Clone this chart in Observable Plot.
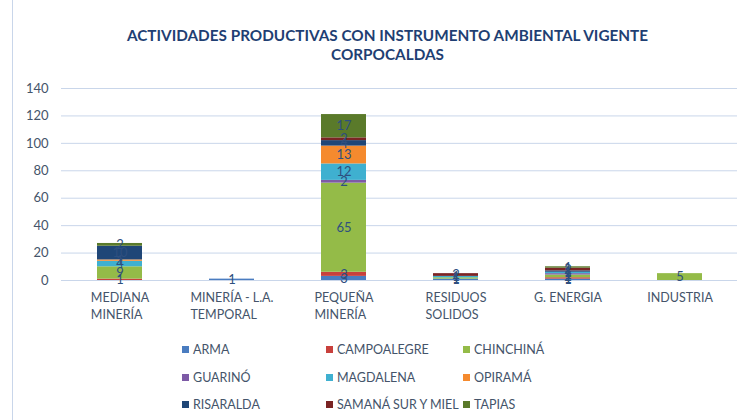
<!DOCTYPE html>
<html>
<head>
<meta charset="utf-8">
<script src="https://cdn.jsdelivr.net/npm/d3@7"></script>
<script src="https://cdn.jsdelivr.net/npm/@observablehq/plot@0.6"></script>
<style>
  html, body { margin: 0; padding: 0; background: #fff; }
  #wrap { position: relative; width: 751px; height: 420px; overflow: hidden; font-family: Lato, "Open Sans", sans-serif; }
  #title { position: absolute; left: 0; width: 775px; top: 26px; text-align: center; font-weight: bold; font-size: 15.3px; line-height: 19px; color: #1f3f73; }
  #legend { position: absolute; left: 0; top: 0; width: 751px; height: 420px; pointer-events: none; }
  .li { position: absolute; font-size: 12.5px; color: #44546a; display: flex; align-items: center; white-space: nowrap; }
  .sw { width: 7px; height: 7px; margin-right: 4px; display: inline-block; }
  #border { position: absolute; left: 12px; top: 0; width: 1px; height: 420px; background: #c9d6ea; }
</style>
</head>
<body>
<div id="wrap">
  <div id="border"></div>
  <div id="chart"></div>
  <div id="title">ACTIVIDADES PRODUCTIVAS CON INSTRUMENTO AMBIENTAL VIGENTE<br>CORPOCALDAS</div>
  <div id="legend"></div>
</div>
<script>
const categories = ["MEDIANA\nMINERÍA", "MINERÍA - L.A.\nTEMPORAL", "PEQUEÑA\nMINERÍA", "RESIDUOS\nSOLIDOS", "G. ENERGIA", "INDUSTRIA"];
const series = ["ARMA", "CAMPOALEGRE", "CHINCHINÁ", "GUARINÓ", "MAGDALENA", "OPIRAMÁ", "RISARALDA", "SAMANÁ SUR Y MIEL", "TAPIAS"];
const arma        = [0, 1, 3, 1, 1, 0];
const campoalegre = [1, 0, 3, 0, 1, 0];
const chinchina   = [9, 0, 65, 1, 2, 5];
const guarino     = [0, 0, 2, 0, 1, 0];
const magdalena   = [4, 0, 12, 1, 1, 0];
const opirama     = [1, 0, 13, 0, 0, 0];
const risaralda   = [10, 0, 4, 0, 1, 0];
const samana      = [0, 0, 2, 2, 2, 0];
const tapias      = [2, 0, 17, 0, 1, 0];
const yTicks = [0, 20, 40, 60, 80, 100, 120, 140];

const colors = ["#4a7cc0", "#c8403c", "#94bb48", "#7d5aa6", "#3fb0d0", "#f58a2e", "#1f4677", "#7a2424", "#5a7a2a"];
const seriesValues = [arma, campoalegre, chinchina, guarino, magdalena, opirama, risaralda, samana, tapias];

const data = [];
series.forEach((s, i) => {
  categories.forEach((c, j) => {
    data.push({category: c, series: s, value: seriesValues[i][j]});
  });
});

const chart = Plot.plot({
  width: 751,
  height: 420,
  marginTop: 88,
  marginBottom: 140,
  marginLeft: 61,
  marginRight: 14,
  style: {fontFamily: "Lato, 'Open Sans', sans-serif", fontSize: "12.5px", color: "#44546a", background: "transparent"},
  x: {domain: categories, paddingInner: 0.6, paddingOuter: 0.3, label: null},
  y: {domain: [0, 140], label: null},
  color: {domain: series, range: colors},
  marks: [
    Plot.gridY(yTicks, {stroke: "#c9d6ea", strokeOpacity: 1, strokeWidth: 1}),
    Plot.barY(data, {x: "category", y: "value", fill: "series", order: series}),
    Plot.text(data, Plot.stackY({x: "category", y: "value", z: "series", order: series,
      text: d => d.value > 0 ? String(d.value) : null, fill: "#2e4f7f", fontSize: 13})),
    Plot.axisY({ticks: yTicks, tickSize: 0, tickPadding: 13, fontSize: 13, fill: "#44546a"}),
    Plot.axisX({tickSize: 0, tickPadding: 10, fontSize: 12.5, lineHeight: 1.35, fill: "#44546a"})
  ]
});
document.getElementById("chart").appendChild(chart);

// left-align multi-line category labels within a centred block
chart.querySelectorAll('g[aria-label="x-axis tick label"] text').forEach(t => {
  const spans = t.querySelectorAll("tspan");
  if (spans.length > 1) {
    let w = 0;
    spans.forEach(sp => { w = Math.max(w, sp.getComputedTextLength()); });
    t.setAttribute("text-anchor", "start");
    spans.forEach(sp => sp.setAttribute("x", -w / 2));
  }
});

// legend
const legendCols = [182, 326, 463];
const legendRows = [349, 377, 404];
const legend = document.getElementById("legend");
series.forEach((s, i) => {
  const el = document.createElement("div");
  el.className = "li";
  el.style.left = legendCols[i % 3] + "px";
  el.style.top = (legendRows[Math.floor(i / 3)] - 8) + "px";
  el.style.height = "16px";
  const sw = document.createElement("span");
  sw.className = "sw";
  sw.style.background = colors[i];
  el.appendChild(sw);
  el.appendChild(document.createTextNode(s));
  legend.appendChild(el);
});
</script>
</body>
</html>
